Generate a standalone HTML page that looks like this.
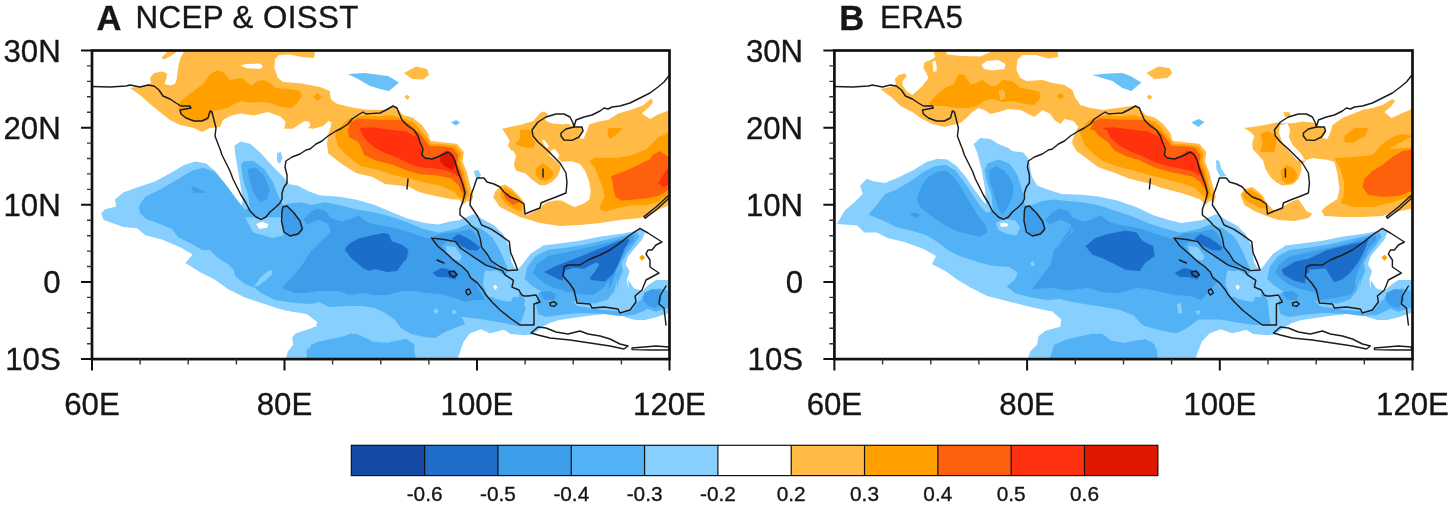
<!DOCTYPE html>
<html lang="en"><head><meta charset="utf-8"><title>Figure</title>
<style>
html,body{margin:0;padding:0;background:#fff;}
body{width:1450px;height:506px;overflow:hidden;}
svg{display:block;}
text{font-family:"Liberation Sans",sans-serif;fill:#161616;stroke:#161616;stroke-width:0.35px;}
</style></head><body>
<svg width="1450" height="506" viewBox="0 0 1450 506">
<defs><filter id="bl" x="-5%" y="-5%" width="110%" height="110%"><feGaussianBlur stdDeviation="0.7"/></filter></defs>
<rect x="0" y="0" width="1450" height="506" fill="#fff"/>
<clipPath id="clip0"><rect x="92.0" y="50.5" width="577.5" height="308.6"/></clipPath>
<g clip-path="url(#clip0)"><g filter="url(#bl)">
<polygon fill="#ffbb44" points="185.6,49.0 314.6,49.0 314.6,56.0 313.6,58.0 302.0,57.0 290.0,54.4 279.0,55.0 275.0,59.0 274.4,68.0 278.0,78.0 283.0,82.0 302.0,83.6 320.0,87.0 330.0,91.0 329.9,94.1 331.3,99.7 336.8,103.8 350.7,107.3 364.5,109.4 378.3,110.1 386.6,109.4 393.5,105.5 399.1,110.7 403.2,114.9 412.9,117.7 421.2,124.6 426.7,131.5 430.9,138.4 422.4,130.0 426.5,133.5 430.7,141.1 444.5,142.4 456.9,143.8 463.8,152.1 462.5,161.8 466.6,171.5 469.4,182.6 472.1,192.2 473.5,196.4 470.8,201.9 467.0,201.0 463.0,205.0 459.7,199.8 451.4,199.2 437.6,196.4 419.6,192.2 408.5,186.7 397.5,185.3 385.0,183.9 372.6,177.0 356.0,172.9 340.7,163.2 328.3,153.5 326.9,143.8 327.1,142.6 328.5,132.9 330.6,127.3 331.3,122.5 328.5,121.1 323.0,126.0 313.3,128.7 307.8,128.0 310.5,125.3 309.2,121.8 305.0,121.1 300.9,123.2 292.6,128.7 284.3,128.7 285.6,121.8 280.1,116.3 267.7,112.1 253.8,115.6 240.0,113.5 230.0,116.0 223.0,120.0 220.0,127.0 210.0,128.0 202.0,132.0 194.0,128.0 180.0,125.0 170.0,120.0 160.0,112.0 150.0,104.0 140.0,95.0 130.0,88.0 148.0,85.0 151.0,83.0 150.0,78.0 154.0,73.0 162.0,71.6 167.0,73.6 166.6,78.0 164.4,84.0 170.0,85.4 175.0,84.0 177.0,78.0 178.0,68.0 180.4,58.0"/>
<polygon fill="#ffbb44" points="173.0,49.0 167.0,52.0 161.6,57.6 163.6,59.4 170.0,56.4 176.0,52.4 176.8,49.0"/>
<polygon fill="#ffffff" points="240.4,65.6 246.0,64.0 260.0,63.6 263.0,66.4 260.0,69.0 246.0,68.0"/>
<polygon fill="#ffbb44" points="404.0,73.0 416.0,66.4 427.0,69.0 429.0,75.0 423.0,79.6 412.0,79.0"/>
<polygon fill="#ffbb44" points="404.4,97.0 407.0,94.4 410.0,97.0 407.4,100.0"/>
<polygon fill="#ffa000" points="218.0,70.0 224.0,73.0 230.0,80.0 236.0,79.0 242.0,78.0 248.0,83.0 252.0,86.0 257.0,81.0 264.0,80.0 270.0,83.0 276.0,88.0 290.0,89.0 300.0,91.0 302.0,96.0 298.0,102.0 292.0,108.0 282.0,107.0 270.0,103.0 260.0,102.0 250.0,103.0 242.0,101.0 234.0,104.0 228.0,108.0 218.0,110.0 213.0,111.0 210.0,117.0 207.0,121.0 196.0,122.0 186.0,118.0 180.0,112.0 178.0,105.0 184.0,98.0 194.0,91.0 204.0,83.0 210.0,74.0"/>
<polygon fill="#ffa000" points="313.0,97.0 317.6,93.0 322.0,97.0 317.6,101.0"/>
<polygon fill="#ffa000" points="345.1,121.8 350.7,117.7 364.5,115.6 378.3,116.3 392.1,114.9 400.4,117.7 412.9,121.8 419.8,128.7 425.3,138.4 419.6,130.0 426.5,136.9 430.7,143.8 444.5,144.5 455.5,145.9 461.1,153.5 459.7,161.8 463.8,171.5 466.6,185.3 469.4,195.0 465.2,199.8 459.7,197.8 452.8,190.9 438.9,185.3 423.7,182.6 409.9,178.4 394.7,175.6 378.1,170.1 360.1,166.0 347.7,156.3 338.0,146.6 335.2,135.5 336.8,131.5"/>
<polygon fill="#ff6010" points="350.7,121.8 357.6,118.4 378.3,119.7 399.1,119.7 410.1,124.6 418.4,132.9 416.8,130.0 423.7,138.3 429.3,145.9 444.5,146.6 452.8,148.0 458.3,154.9 456.9,163.2 461.1,171.5 463.8,182.6 466.6,192.2 464.5,199.2 462.5,193.6 458.3,185.3 451.4,178.4 437.6,175.6 419.6,174.3 405.8,170.1 391.9,164.6 375.3,160.4 364.3,154.9 358.7,142.4 349.0,136.9 347.7,130.0 347.9,130.1"/>
<polygon fill="#ff3010" points="360.3,128.0 371.4,127.3 392.1,130.1 406.0,131.5 415.7,137.0 414.1,130.0 415.4,134.1 419.6,141.1 422.4,150.7 422.4,157.0 429.3,159.7 437.6,156.3 444.5,150.7 451.4,152.1 454.9,157.7 456.2,164.6 459.7,171.5 458.3,177.0 452.8,172.9 444.5,170.1 430.7,168.0 419.6,167.3 408.5,163.2 397.5,157.7 386.4,153.5 375.3,148.0 367.0,141.1 362.9,135.5 360.1,130.0"/>
<polygon fill="#e01800" points="440.3,157.7 447.2,152.8 452.8,156.3 454.9,164.6 452.8,170.1 444.5,166.0 440.3,161.8"/>
<polygon fill="#ffbb44" points="502.1,128.7 521.5,124.6 533.3,121.1 539.5,113.5 543.6,111.4 548.0,113.8 545.0,119.7 549.2,122.5 557.5,123.9 568.5,123.9 572.0,126.0 576.8,126.7 583.0,127.3 582.4,131.5 579.6,137.0 583.7,138.4 586.5,131.5 589.3,124.6 597.6,121.8 608.6,119.7 618.3,113.5 632.1,109.4 643.2,105.2 651.5,98.3 652.9,102.4 648.0,108.0 641.8,113.5 650.1,119.0 658.4,114.2 668.1,110.7 676.4,110.7 674.0,205.0 670.0,205.0 660.0,209.0 648.0,216.0 640.0,218.0 620.0,220.0 600.0,223.0 580.0,225.0 560.0,226.0 540.0,223.0 520.0,217.0 500.0,207.0 493.0,197.0 493.1,198.4 495.2,191.5 500.7,186.0 504.9,184.6 511.8,188.7 520.1,197.0 524.3,202.6 524.3,214.3 527.0,215.0 535.3,210.9 540.9,208.1 542.2,205.3 547.8,201.9 554.7,200.5 561.6,200.5 568.5,204.2 574.1,207.0 582.4,204.2 589.3,199.8 590.7,191.5 589.3,181.8 585.1,170.7 579.6,163.8 571.3,161.3 561.6,161.8 555.4,156.2 549.2,152.1 547.8,152.8 550.5,156.2 556.1,161.1 560.9,164.5 560.2,169.4 557.7,176.3 551.9,182.1 545.0,185.3 539.5,184.9 531.2,179.0 525.6,173.5 516.2,170.7 513.9,165.2 516.0,155.5 512.5,150.0 511.8,150.9 507.7,145.3 509.7,141.2 507.7,137.0"/>
<polygon fill="#ffffff" points="541.5,140.5 544.3,139.8 549.2,146.7 546.4,148.1"/>
<polygon fill="#ffffff" points="550.5,150.9 554.7,148.8 559.5,155.0 557.5,159.2 553.3,156.4"/>
<polygon fill="#ffffff" points="547.8,119.7 560.2,115.6 568.5,117.7 569.9,122.5 563.0,124.6 551.9,123.2"/>
<polygon fill="#ffa000" points="520.1,130.1 527.0,129.4 531.9,131.5 531.2,137.0 535.3,142.6 533.3,148.1 521.5,146.7 515.3,143.9 520.1,138.4"/>
<polygon fill="#ffa000" points="607.9,128.0 622.5,128.0 618.3,132.9 610.0,139.1 607.9,135.6"/>
<polygon fill="#ffa000" points="589.3,161.1 594.8,168.0 598.9,177.7 603.1,188.7 604.5,197.0 600.3,205.3 599.6,209.5 604.5,211.5 618.3,208.1 632.1,205.3 646.0,205.3 657.0,202.6 665.3,197.0 676.4,194.3 676.4,132.9 668.1,132.9 658.4,137.0 646.0,149.5 632.1,155.0 618.3,157.8 594.8,157.8"/>
<polygon fill="#ff6010" points="610.7,176.3 618.3,173.5 632.1,168.0 646.0,161.1 649.4,159.8 652.9,155.0 659.8,150.9 668.1,156.4 676.4,156.4 676.4,190.1 668.1,190.1 659.8,195.6 646.0,198.4 632.1,199.8 621.1,200.5 615.5,197.0 613.5,188.7 612.8,181.8"/>
<polygon fill="#ff3010" points="676.4,166.6 668.1,168.0 664.0,173.5 658.4,183.2 664.0,187.3 668.1,184.6 676.4,184.6"/>
<polygon fill="#ffa000" points="535.3,169.4 542.2,163.1 547.8,166.6 553.3,172.1 551.9,177.7 545.0,181.1 539.5,179.7 536.0,174.9"/>
<polygon fill="#ffa000" points="500.7,191.5 504.9,187.3 511.8,191.5 518.7,197.7 522.9,202.6 521.5,210.9 514.6,209.5 506.3,203.9 500.7,197.0"/>
<polygon fill="#ff6010" points="503.5,194.3 507.7,192.9 514.6,198.4 520.1,201.9 513.2,205.3 506.3,199.8"/>
<polygon fill="#86cfff" points="277.0,153.0 281.0,152.0 282.4,158.0 280.0,164.0 277.0,161.0"/>
<polygon fill="#ffffff" points="577.0,123.0 589.0,123.6 586.0,132.0 583.0,139.0 579.0,138.0 582.4,132.0 583.0,127.4"/>
<polygon fill="#86cfff" points="473.6,171.0 478.0,170.0 481.0,175.0 479.0,179.0 475.6,177.0"/>
<polygon fill="#68c1f9" points="348.0,74.0 365.0,73.0 388.0,76.0 399.0,82.4 389.0,91.0 380.0,89.0 370.0,86.0 358.0,79.0"/>
<polygon fill="#68c1f9" points="451.0,122.4 456.0,120.0 460.0,122.4 456.0,125.6"/>
<polygon fill="#86cfff" points="101.1,213.3 105.2,209.2 116.3,206.4 114.9,199.5 123.2,192.6 138.4,187.0 155.0,181.5 170.2,173.2 184.1,164.9 195.1,161.6 206.2,163.5 215.9,171.8 225.5,184.3 233.8,195.3 241.6,205.8 242.7,199.5 240.8,187.0 238.0,170.4 235.2,153.8 234.4,145.5 240.8,141.4 250.4,144.1 261.5,153.8 272.6,166.3 283.6,177.3 289.2,184.3 297.5,185.6 308.5,191.2 319.6,195.3 339.0,196.7 355.6,199.5 374.9,205.0 394.3,213.3 408.1,218.8 424.7,223.0 438.5,224.4 449.6,221.6 458.7,220.2 467.0,216.9 474.0,214.1 483.6,219.7 494.7,225.8 503.0,234.1 508.5,245.1 509.9,246.3 511.3,261.5 514.6,267.6 517.7,269.4 521.2,266.0 525.3,260.4 530.9,253.5 541.9,246.6 542.6,245.6 559.2,243.5 579.9,240.7 600.7,236.6 621.4,233.8 635.2,231.1 640.8,228.3 644.9,232.4 642.1,239.4 635.2,247.7 628.3,256.0 625.5,264.3 629.7,271.2 626.9,279.5 628.3,289.8 628.3,280.0 633.8,288.3 642.1,291.1 647.7,285.5 656.0,280.0 674.0,280.0 674.0,313.2 668.4,313.2 664.3,314.6 656.0,317.3 644.9,320.1 635.2,320.1 625.5,317.3 620.0,314.6 611.7,312.5 600.7,314.6 586.8,316.0 573.0,318.0 559.2,320.1 549.5,322.9 542.6,327.0 537.0,331.2 531.5,334.6 524.6,335.3 510.7,333.9 503.8,329.8 498.3,331.2 490.0,333.3 480.9,329.3 469.8,333.4 463.7,341.7 458.2,356.9 456.0,363.8 285.0,363.8 287.8,351.4 293.3,344.5 291.9,336.2 300.2,329.3 316.8,326.5 315.4,321.0 308.5,315.4 294.7,312.7 278.1,308.5 261.5,303.0 244.9,297.5 228.3,289.2 214.5,279.5 200.7,272.6 185.4,262.9 192.4,254.6 181.3,247.7 161.9,239.4 145.3,235.2 137.0,228.3 123.2,226.9 103.8,220.0"/>
<polygon fill="#ffffff" points="288.6,311.3 306.6,314.1 317.7,322.4 312.1,327.9 295.5,333.4 288.6,341.7"/>
<polygon fill="#53b2f5" points="139.8,205.0 145.3,196.7 161.9,188.4 178.5,178.7 192.4,170.4 203.4,167.7 214.5,171.8 225.5,184.3 236.6,199.5 244.9,209.7 249.9,207.5 248.0,195.0 243.0,179.0 241.0,164.1 243.5,161.6 253.2,160.7 264.3,169.0 272.6,181.5 278.1,195.3 282.3,205.0 289.2,203.6 300.2,202.2 311.3,205.0 325.1,202.2 339.0,205.0 355.6,209.2 372.2,211.9 388.8,216.1 405.4,221.6 422.0,228.5 438.5,232.7 457.9,228.5 467.0,224.4 480.9,228.5 491.9,236.8 500.2,250.7 505.8,264.5 508.5,269.8 505.8,275.3 511.3,285.0 519.6,292.5 525.1,300.2 519.6,326.5 500.2,322.4 483.6,319.6 461.5,316.8 465.0,324.0 455.0,328.0 445.0,332.0 435.0,338.0 425.0,337.0 411.0,334.0 401.0,328.0 395.0,320.0 387.0,314.0 375.0,308.0 363.0,306.0 347.0,306.0 329.0,307.0 319.0,302.0 311.0,304.0 295.0,303.0 275.0,300.0 261.0,293.0 255.0,288.0 245.0,284.0 235.0,276.0 234.0,270.0 228.0,264.0 218.0,258.0 210.0,250.0 202.0,250.0 190.0,243.0 178.0,237.0 172.0,229.0 160.0,224.0 146.0,219.0 140.0,213.0 139.0,208.0"/>
<polygon fill="#86cfff" points="244.9,217.2 253.2,232.4 272.6,238.0 283.6,235.2 280.9,217.2"/>
<polygon fill="#ffffff" points="256.0,224.1 262.1,221.7 268.4,224.1 267.0,227.7 259.3,228.9"/>
<polygon fill="#53b2f5" points="307.2,363.8 311.3,344.5 325.1,340.3 344.5,336.2 355.6,333.4 366.6,338.9 377.7,345.9 391.5,341.7 405.4,338.9 413.7,344.5 416.4,363.8"/>
<polygon fill="#53b2f5" points="306.6,350.0 317.7,341.7 337.0,338.9 350.9,333.4 361.9,336.2 373.0,341.7 389.6,343.1 406.2,338.9 414.5,344.5 411.7,363.8 306.6,363.8"/>
<polygon fill="#53b2f5" points="524.6,279.5 527.3,267.0 535.6,256.0 548.1,249.7 566.1,247.7 586.8,244.2 607.6,239.4 625.5,235.2 636.6,232.4 639.4,236.6 633.8,244.9 626.9,253.2 621.4,262.9 622.8,271.2 618.6,280.9 617.2,289.8 617.2,280.0 614.5,291.1 607.6,299.4 595.1,303.5 578.5,302.1 564.7,299.4 550.9,298.0 542.6,292.4 531.5,285.5 526.0,280.0"/>
<polygon fill="#53b2f5" points="642.1,296.6 650.4,291.1 660.1,288.3 668.4,291.1 668.4,307.7 656.0,311.8 644.9,307.7"/>
<polygon fill="#3c9dea" points="303.2,219.7 310.1,212.1 317.0,208.7 325.3,210.7 330.9,217.7 341.9,221.8 350.2,219.0 358.5,215.6 366.8,221.8 375.1,224.6 388.9,226.7 402.8,230.1 415.2,234.3 427.7,238.4 431.8,237.2 441.5,233.3 458.1,231.9 469.2,229.1 474.7,233.3 478.8,240.2 480.9,247.8 486.4,254.7 490.6,261.2 496.8,265.1 495.4,267.9 485.8,265.1 477.5,259.6 469.2,254.3 460.9,248.8 455.3,242.3 447.0,241.6 441.5,245.7 447.7,254.0 455.3,261.2 462.2,266.2 467.8,271.7 470.5,277.3 474.7,281.7 485.0,300.0 475.0,300.0 465.0,302.0 455.0,298.0 441.0,294.0 427.0,293.0 415.0,291.0 403.0,291.0 387.0,295.0 375.0,295.0 363.0,293.0 349.0,295.0 339.0,291.0 319.0,291.0 305.0,293.0 295.0,293.0 282.0,288.0 293.0,276.0 303.0,264.0 309.0,254.0 312.0,250.0 314.3,248.1 322.6,239.8 330.9,231.5 328.1,223.9 318.4,219.7 307.3,224.6"/>
<polygon fill="#3c9dea" points="191.0,185.6 206.2,192.6 193.7,193.1"/>
<polygon fill="#3c9dea" points="247.7,169.0 256.0,167.7 264.3,176.0 269.8,189.8 267.0,199.5 260.1,202.2 253.2,192.6 249.1,178.7"/>
<polygon fill="#3c9dea" points="283.6,208.6 287.8,206.4 294.7,213.3 301.6,223.0 302.4,231.3 296.1,236.3 287.8,235.4 283.1,225.8 282.3,214.7"/>
<polygon fill="#3c9dea" points="532.9,272.6 537.0,264.3 548.1,256.0 561.9,253.2 586.8,247.7 607.6,242.8 625.5,237.3 633.8,235.2 633.8,240.7 626.9,247.7 622.8,256.0 617.2,267.0 614.5,275.3 611.7,283.6 608.9,289.8 608.9,280.0 603.4,288.3 592.4,295.2 578.5,293.8 567.5,291.1 555.0,288.3 545.3,284.1 537.0,277.2"/>
<polygon fill="#1f6cc9" points="344.7,249.5 348.8,243.9 358.5,238.4 371.0,235.6 383.4,232.9 388.9,234.3 391.7,241.2 401.4,244.6 408.3,249.5 408.3,255.0 408.0,250.0 407.0,258.0 402.0,264.0 397.0,271.0 387.0,272.0 375.0,269.0 369.0,271.0 363.0,268.0 351.0,258.0 345.0,250.0"/>
<polygon fill="#1f6cc9" points="543.9,271.9 555.0,266.3 567.5,261.5 579.9,256.7 593.7,251.1 607.6,245.6 620.0,240.7 628.3,238.7 629.7,240.7 624.9,247.7 621.4,256.0 617.9,265.6 613.1,273.9 604.8,281.5 592.4,280.2 578.5,280.9 567.5,282.2 559.2,279.5"/>
<polygon fill="#3c9dea" points="565.4,270.5 573.0,267.7 584.1,268.7 589.6,265.6 596.5,262.2 599.3,264.3 595.1,271.2 589.6,278.1 592.4,280.9 597.9,285.0 595.1,291.9 564.7,291.9 562.6,278.1"/>
<polygon fill="#1f6cc9" points="451.9,238.8 458.1,234.0 466.4,237.4 474.7,243.0 480.2,247.8 477.5,250.6 469.2,249.9 460.9,245.7 455.3,241.6"/>
<polygon fill="#1f6cc9" points="432.5,272.7 441.5,267.9 448.4,269.3 458.1,273.4 455.3,279.6 445.6,276.9 437.3,276.9"/>
<polygon fill="#86cfff" points="445.6,245.7 455.3,247.1 462.2,256.8 459.5,261.0 452.6,258.2 447.0,252.7"/>
<polygon fill="#86cfff" points="484.4,272.0 496.8,270.6 507.9,277.6 510.7,285.9 518.9,291.4 518.9,296.9 488.5,296.9 483.0,284.5"/>
<polygon fill="#86cfff" points="485.0,270.0 501.0,274.0 515.0,290.0 511.0,302.0 495.0,300.0 487.0,286.0"/>
<polygon fill="#86cfff" points="433.0,311.0 436.0,308.0 439.0,311.0 436.0,314.0"/>
<polygon fill="#86cfff" points="451.6,312.0 454.0,309.6 456.6,312.0 454.0,314.4"/>
<polygon fill="#86cfff" points="254.0,286.4 260.0,278.0 268.0,271.0 272.4,270.0 272.0,274.0 266.0,280.0 258.0,286.0"/>
<polygon fill="#53b2f5" points="538.0,293.0 550.0,290.0 560.0,295.0 572.0,300.0 577.0,306.0 590.0,308.0 604.0,310.0 618.0,311.0 623.0,314.0 632.0,310.0 638.0,302.0 644.0,297.0 650.0,304.0 646.0,310.0 634.0,315.0 620.0,316.0 600.0,313.6 580.0,313.0 560.0,315.0 546.0,317.0 538.0,314.0 536.0,305.0"/>
<polygon fill="#3c9dea" points="540.0,292.0 550.0,291.0 556.0,295.0 554.0,300.0 544.0,299.6"/>
<polygon fill="#3c9dea" points="644.0,293.0 652.0,289.0 660.0,290.0 662.0,300.0 656.0,308.0 648.0,306.0 643.0,300.0"/>
<polygon fill="#53b2f5" points="492.0,298.0 508.0,302.0 520.0,300.0 526.0,308.0 520.0,324.0 510.0,317.0 500.0,309.0"/>
<polygon fill="#ffffff" points="493.0,287.0 495.0,284.4 497.6,287.0 495.4,290.0"/>
<polygon fill="#ffa000" points="639.0,257.6 642.0,254.8 645.2,257.6 642.0,260.8"/>
</g>
<g fill="none" stroke="#1c1c1c" stroke-width="1.45" stroke-linejoin="round" stroke-linecap="round">
<polyline points="90.0,86.4 110.0,87.0 126.0,86.0 130.0,85.0 140.0,87.0 148.0,85.0 154.0,86.0 159.0,90.0 163.0,96.0 170.0,99.0 176.0,103.0 181.0,106.0 190.0,106.0 191.0,108.0 180.0,110.0 181.0,114.0 186.0,118.0 194.0,121.0 202.0,121.0 208.0,118.0 210.0,111.0 212.0,112.0 214.0,120.0 216.0,128.0 215.0,136.0 218.0,144.0 220.0,149.0 222.0,155.0 226.0,163.0 230.0,171.0 233.0,179.0 237.0,187.0 241.0,195.0 246.0,203.0 250.0,211.0 256.0,217.0 261.0,219.4 266.0,217.0 270.0,212.0 276.0,207.0 280.0,203.0 282.0,199.0 282.0,193.0 284.0,187.0 287.0,183.0 287.0,175.0 285.0,167.0 286.0,161.0 292.0,157.0 300.0,154.0 306.0,150.0 310.0,149.0 316.0,144.0 322.0,141.0 328.0,136.0 336.0,131.0 342.0,128.0 348.0,124.0 352.0,119.0 358.0,115.0 363.0,112.0 366.0,114.0 370.0,113.6 380.0,113.0 386.0,110.0 393.0,106.0 397.0,108.0 399.0,113.0 402.0,120.0 408.0,126.0 414.0,130.0 418.0,136.0 420.0,142.0 423.0,149.0 422.0,155.0 425.0,158.0 432.0,159.0 440.0,156.0 448.0,152.0 452.0,155.0 455.0,161.0 457.0,169.0 460.0,177.0 463.0,185.0 465.0,193.0 463.0,201.0 460.0,209.0 460.0,215.0 465.0,219.0 469.0,223.0 470.5,225.0 477.5,230.5 480.2,238.8 481.6,247.1 487.1,254.0 491.3,261.0 499.6,266.5 507.9,270.6 517.6,270.0 514.8,262.3 510.7,252.7 509.3,241.6 499.6,234.7 491.3,229.1 481.6,225.0 478.0,217.0 474.0,211.0 470.0,205.0 471.0,195.0 474.0,187.0 477.0,178.0 484.0,178.0 487.0,182.0 494.0,184.0 500.0,187.0 504.0,192.0 510.0,197.0 518.0,200.0 524.0,204.0 525.0,214.0 532.0,211.0 540.0,208.0 541.0,203.0 548.0,200.0 556.0,197.0 566.0,193.0 567.0,183.0 566.0,173.0 560.0,163.0 552.0,155.0 546.0,149.0 538.0,142.0 533.0,136.0 532.0,130.0 538.0,122.0 546.0,117.0 556.0,114.0 564.0,114.0 570.0,117.0 573.0,123.0 574.0,127.0 576.0,120.0 584.0,117.0 592.0,115.0 600.0,111.0 604.0,108.0 608.0,109.0 612.0,107.0 620.0,106.0 630.0,103.0 640.0,98.0 650.0,93.0 658.0,87.0 664.0,82.0 668.0,77.0 672.0,72.0"/>
<polyline points="561.0,133.0 566.0,129.0 574.0,127.0 582.0,127.0 583.0,131.0 579.0,137.0 572.0,140.4 564.0,140.0 561.0,136.0 561.0,133.0"/>
<polyline points="283.0,207.0 287.0,206.0 294.0,213.0 300.0,221.0 302.4,229.0 298.0,234.0 290.0,236.0 284.0,232.0 281.6,221.0 282.0,211.0 283.0,207.0"/>
<polyline points="431.8,238.1 437.3,245.7 447.0,254.0 455.3,261.7 462.2,266.5 467.8,272.0 470.5,277.6 477.5,283.1 483.0,290.0 485.8,294.8 492.0,302.0 500.0,310.0 510.0,318.0 520.0,325.0 528.0,325.0 534.0,325.0 534.0,304.0 540.0,302.0 536.0,295.0 528.0,296.0 524.0,296.0 521.7,294.8 518.9,290.0 512.0,287.2 513.4,280.3 509.3,277.6 505.1,274.8 502.4,270.6 494.1,267.9 485.8,265.1 477.5,259.6 469.2,254.0 460.9,248.5 455.3,241.6 444.3,239.5 431.8,238.1"/>
<polyline points="531.0,333.0 538.0,327.0 546.0,328.0 556.0,332.0 568.0,334.0 580.0,331.0 588.0,334.0 600.0,336.0 610.0,339.0 620.0,344.0 628.0,346.0 624.0,349.0 610.0,346.0 590.0,343.0 570.0,340.0 550.0,338.0 538.0,335.0 531.0,333.0"/>
<polyline points="632.0,348.0 644.0,347.0 656.0,346.0 669.0,347.0 669.0,350.0 650.0,350.0 632.0,349.6 632.0,348.0"/>
<polyline points="610.0,250.0 600.0,255.0 588.0,260.0 580.0,265.0 568.0,265.0 564.0,267.0 563.0,276.0 570.0,284.0 574.0,290.0 577.0,303.0 590.0,304.0 592.0,308.0 604.0,307.0 618.0,309.0 620.0,313.0 630.0,310.0 636.0,302.0 635.0,296.0 642.0,290.0 646.0,280.0 659.0,273.0 650.0,267.0 650.0,260.0 646.0,254.0 648.0,250.0 652.0,250.0 656.0,245.0 662.0,242.0 648.0,233.0 640.0,228.4 630.0,235.0 620.0,243.0 610.0,250.0"/>
<polyline points="666.0,286.0 660.0,296.0 659.0,304.0 664.0,308.0 666.0,325.0"/>
<polyline points="550.0,303.0 554.0,301.6 557.0,304.0 554.0,306.4 550.4,305.6 550.0,303.0"/>
<polyline points="466.4,290.0 469.0,289.0 471.0,293.0 468.0,295.0 466.0,292.4 466.4,290.0"/>
<polyline points="449.0,272.0 454.0,271.0 457.0,275.0 454.0,277.0 450.0,275.0 449.0,272.0"/>
<polyline points="437.0,260.0 444.0,263.0"/>
<polyline points="408.0,179.0 407.0,189.0"/>
<polyline points="644.0,216.6 656.0,207.0 668.0,196.0 669.2,198.0 657.2,209.0 645.2,218.2 644.0,216.6"/>
<polyline points="543.0,169.0 543.0,177.0"/>
</g></g>
<g stroke="#111" fill="none">
<rect x="92.0" y="50.5" width="577.5" height="308.6" stroke-width="2.7"/>
<path d="M92.0 50.5H81.0M92.0 127.7H81.0M92.0 204.8H81.0M92.0 282.0H81.0M92.0 359.1H81.0" stroke-width="2"/>
<path d="M92.0 65.9H87.0M92.0 81.4H87.0M92.0 96.8H87.0M92.0 112.2H87.0M92.0 143.1H87.0M92.0 158.5H87.0M92.0 173.9H87.0M92.0 189.4H87.0M92.0 220.2H87.0M92.0 235.7H87.0M92.0 251.1H87.0M92.0 266.5H87.0M92.0 297.4H87.0M92.0 312.8H87.0M92.0 328.2H87.0M92.0 343.7H87.0" stroke-width="1.4" stroke="#333"/>
<path d="M92.0 359.1V370.6M284.5 359.1V370.6M477.0 359.1V370.6M669.5 359.1V370.6" stroke-width="2"/>
<path d="M140.1 359.1V364.6M188.2 359.1V364.6M236.4 359.1V364.6M332.6 359.1V364.6M380.8 359.1V364.6M428.9 359.1V364.6M525.1 359.1V364.6M573.2 359.1V364.6M621.4 359.1V364.6" stroke-width="1.4" stroke="#333"/>
</g>
<text x="60.7" y="61.7" font-size="31.2" text-anchor="end">30N</text>
<text x="60.7" y="138.8" font-size="31.2" text-anchor="end">20N</text>
<text x="60.7" y="216.0" font-size="31.2" text-anchor="end">10N</text>
<text x="60.7" y="293.2" font-size="31.2" text-anchor="end">0</text>
<text x="60.7" y="370.3" font-size="31.2" text-anchor="end">10S</text>
<text x="92.0" y="415.3" font-size="31.2" text-anchor="middle">60E</text>
<text x="284.5" y="415.3" font-size="31.2" text-anchor="middle">80E</text>
<text x="477.0" y="415.3" font-size="31.2" text-anchor="middle">100E</text>
<text x="669.5" y="415.3" font-size="31.2" text-anchor="middle">120E</text>
<clipPath id="clip1"><rect x="834.4" y="50.5" width="578.1" height="308.6"/></clipPath>
<g clip-path="url(#clip1)"><g filter="url(#bl)">
<polygon fill="#ffbb44" points="932.4,49.0 944.4,49.0 947.4,54.4 962.4,56.0 980.4,56.4 989.4,52.4 992.4,49.0 1057.4,49.0 1058.4,57.0 1048.4,58.4 1036.4,55.0 1022.4,55.0 1017.4,60.0 1016.4,70.0 1020.4,78.0 1026.4,81.0 1042.4,80.0 1052.4,83.0 1064.4,85.0 1072.4,90.0 1075.4,98.0 1080.4,105.0 1090.4,108.0 1102.4,110.0 1135.9,105.5 1141.5,110.7 1145.6,114.9 1155.3,117.7 1163.6,124.6 1169.1,131.5 1173.3,138.4 1164.8,130.0 1168.9,133.5 1173.1,141.1 1186.9,142.4 1199.3,143.8 1206.2,152.1 1204.9,161.8 1209.0,171.5 1211.8,182.6 1214.5,192.2 1215.9,196.4 1213.2,201.9 1209.4,201.0 1205.4,205.0 1200.7,199.8 1192.4,196.4 1178.6,192.2 1162.0,188.1 1150.9,183.9 1139.9,181.2 1128.8,178.4 1115.0,172.9 1098.4,167.3 1087.3,159.0 1076.2,150.7 1072.1,142.4 1072.4,149.0 1072.4,140.0 1075.4,132.0 1078.4,127.0 1073.4,121.0 1064.4,119.0 1060.4,124.0 1054.4,120.0 1050.4,114.0 1042.4,110.0 1034.4,117.0 1028.4,114.0 1020.4,110.0 1008.4,109.0 998.4,112.0 990.4,114.0 984.4,110.0 978.4,108.0 972.4,112.0 966.4,118.0 960.4,123.0 952.4,125.0 944.4,127.0 932.4,124.0 920.4,118.0 912.4,112.0 900.4,106.0 892.4,98.0 880.4,89.0 890.4,87.0 896.0,84.4 894.8,79.0 898.8,75.0 904.8,73.6 906.8,76.0 902.8,81.0 902.4,85.0 906.4,91.0 912.4,95.0 922.4,86.0 928.4,78.0 926.4,73.0 923.4,68.0 924.4,62.4 931.4,59.6 935.4,57.0"/>
<polygon fill="#ffffff" points="981.4,65.0 986.4,61.0 998.4,60.0 1005.4,64.0 1004.4,69.0 992.4,70.4 984.4,69.0"/>
<polygon fill="#ffffff" points="932.4,61.6 936.0,61.0 936.8,71.0 933.4,72.0"/>
<polygon fill="#ffbb44" points="1146.4,73.0 1158.4,66.4 1169.4,68.0 1172.4,73.0 1167.4,78.0 1154.4,79.0"/>
<polygon fill="#ffbb44" points="1146.8,97.0 1149.4,94.4 1152.4,97.0 1149.8,100.0"/>
<polygon fill="#ffa000" points="958.4,74.0 964.4,75.0 970.4,84.0 976.4,83.0 982.4,80.0 990.4,86.0 996.4,86.0 1002.4,80.0 1012.4,81.0 1020.4,88.0 1032.4,90.0 1039.4,92.0 1040.4,98.0 1034.4,105.0 1024.4,104.0 1012.4,101.0 1002.4,102.0 992.4,99.0 984.4,101.0 976.4,106.0 968.4,108.0 956.4,108.0 944.4,106.0 932.4,106.0 928.4,104.0 936.4,95.0 946.4,87.0 954.4,84.0 956.4,78.0"/>
<polygon fill="#ffbb44" points="998.8,91.0 1002.4,89.0 1005.4,93.0 1004.4,99.0 1000.4,100.0"/>
<polygon fill="#ffa000" points="1056.4,96.0 1060.4,93.0 1064.4,96.0 1060.4,99.6"/>
<polygon fill="#ffa000" points="1087.5,121.8 1093.1,117.7 1106.9,115.6 1120.7,116.3 1134.5,114.9 1142.8,117.7 1155.3,121.8 1162.2,128.7 1167.7,138.4 1162.0,130.0 1168.9,136.9 1173.1,143.8 1186.9,144.5 1197.9,145.9 1203.5,153.5 1202.1,161.8 1206.2,171.5 1209.0,185.3 1211.8,195.0 1207.6,199.8 1202.1,195.0 1195.2,188.1 1184.1,183.9 1167.5,179.8 1150.9,175.6 1137.1,171.5 1120.5,167.3 1103.9,161.8 1092.8,153.5 1084.5,145.2 1080.4,134.1 1079.2,131.5"/>
<polygon fill="#ff6010" points="1093.1,121.8 1100.0,118.4 1120.7,119.7 1141.5,119.7 1152.5,124.6 1160.8,132.9 1159.2,130.0 1166.1,138.3 1171.7,145.9 1186.9,146.6 1195.2,148.0 1200.7,154.9 1199.3,163.2 1203.5,171.5 1206.2,182.6 1209.0,192.2 1206.9,199.2 1206.2,190.9 1200.7,182.6 1193.8,177.0 1181.3,174.3 1167.5,171.5 1153.7,167.3 1139.9,160.4 1126.0,156.3 1115.0,150.7 1108.0,142.4 1098.4,135.5 1094.2,130.0 1090.3,130.1"/>
<polygon fill="#ff3010" points="1102.7,128.0 1113.8,127.3 1134.5,130.1 1148.4,131.5 1158.1,137.0 1156.5,130.0 1157.8,134.1 1162.0,141.1 1164.8,150.7 1164.8,157.0 1171.7,159.7 1180.0,156.3 1186.9,150.7 1193.8,152.1 1197.3,157.7 1198.6,164.6 1202.1,171.5 1200.7,175.6 1192.4,171.5 1181.3,168.7 1167.5,166.0 1153.7,161.8 1142.6,156.3 1131.6,152.1 1120.5,146.6 1110.8,138.3 1106.7,130.0"/>
<polygon fill="#ffbb44" points="1244.4,128.0 1262.4,125.6 1276.4,122.4 1282.4,123.2 1292.4,123.2 1302.4,121.6 1313.4,122.8 1317.4,126.0 1324.4,127.0 1326.4,132.0 1322.4,138.0 1327.4,139.0 1330.4,132.0 1332.4,125.0 1342.4,118.0 1352.4,114.0 1362.4,110.0 1372.4,108.0 1382.4,105.0 1392.4,99.0 1395.4,101.0 1390.4,107.0 1384.4,112.0 1391.4,118.0 1402.4,113.0 1412.4,109.0 1418.4,108.0 1418.4,205.0 1410.4,209.0 1390.4,213.0 1382.4,216.0 1362.4,217.0 1342.4,217.0 1324.4,216.0 1321.4,211.0 1326.4,206.0 1337.4,199.0 1339.4,189.0 1337.4,173.0 1334.4,162.0 1326.4,159.4 1319.4,159.0 1312.4,158.0 1306.4,160.0 1301.4,165.0 1301.4,171.0 1298.4,179.0 1292.4,184.6 1282.4,185.4 1276.4,182.6 1270.4,177.0 1265.4,169.0 1263.4,161.0 1258.4,155.0 1253.4,150.0 1252.4,147.0 1252.4,142.0 1254.4,136.0 1250.4,132.0"/>
<polygon fill="#ffbb44" points="1283.4,112.0 1290.4,112.4 1290.0,117.0 1284.8,117.0"/>
<polygon fill="#ffffff" points="1279.8,125.3 1287.4,123.2 1290.2,130.1 1288.8,137.0 1292.9,145.3 1299.9,152.2 1305.4,160.5 1297.1,160.5 1287.4,149.5 1281.9,141.2 1279.1,132.9"/>
<polygon fill="#ffa000" points="1260.4,134.0 1266.4,131.0 1274.4,134.0 1276.4,142.0 1274.4,152.0 1260.4,152.0 1262.4,142.0"/>
<polygon fill="#ffa000" points="1344.4,136.0 1354.4,128.0 1368.4,128.0 1365.4,136.0 1352.4,143.0 1344.4,142.0"/>
<polygon fill="#ffbb44" points="1240.4,195.0 1244.4,189.0 1252.4,187.0 1262.4,195.0 1266.4,203.0 1274.4,211.0 1282.4,207.0 1290.4,202.0 1298.4,199.0 1302.4,205.0 1306.4,211.0 1312.4,214.0 1308.4,218.0 1294.4,221.0 1278.4,220.0 1266.4,216.0 1254.4,211.0 1244.4,205.0"/>
<polygon fill="#ffa000" points="1242.4,194.0 1250.4,189.0 1260.4,196.0 1266.4,204.0 1268.4,209.0 1260.4,208.0 1250.4,203.0 1244.4,199.0"/>
<polygon fill="#ffa000" points="1280.4,171.0 1286.4,165.0 1293.4,168.0 1297.4,175.0 1294.4,182.0 1286.4,184.0 1281.4,179.0"/>
<polygon fill="#ffa000" points="1334.4,158.0 1340.4,169.0 1344.4,183.0 1343.4,197.0 1340.4,203.0 1352.4,207.0 1372.4,207.0 1390.4,203.0 1402.4,199.0 1418.4,194.0 1418.4,147.0 1388.4,149.0 1412.4,136.0 1402.4,134.0 1392.4,137.0 1382.4,144.0 1372.4,155.0 1352.4,157.0"/>
<polygon fill="#ff6010" points="1362.4,187.0 1364.4,179.0 1372.4,171.0 1382.4,165.0 1392.4,157.0 1402.4,151.0 1418.4,148.0 1418.4,188.0 1406.4,193.0 1398.4,196.0 1382.4,197.0 1368.4,195.0"/>
<polygon fill="#86cfff" points="1216.0,160.0 1219.4,161.0 1221.4,169.0 1226.4,176.0 1220.4,177.0 1216.4,169.0"/>
<polygon fill="#68c1f9" points="1092.4,75.0 1108.4,73.6 1122.4,73.0 1130.4,76.0 1141.4,82.4 1131.4,91.0 1122.4,88.0 1112.4,81.0 1102.4,78.0"/>
<polygon fill="#68c1f9" points="1191.4,122.4 1198.4,119.0 1204.4,122.0 1198.4,127.0"/>
<polygon fill="#86cfff" points="836.5,224.4 844.8,210.5 854.5,202.2 862.8,193.9 860.1,185.6 867.0,178.7 873.9,181.5 885.0,182.9 898.8,177.3 912.6,170.4 926.5,162.1 937.5,158.8 947.2,159.4 956.9,166.3 965.2,176.0 973.5,188.4 981.8,199.5 985.9,204.2 985.1,189.8 981.8,170.4 977.6,153.8 973.5,144.1 979.0,140.0 975.4,142.0 980.4,138.0 990.4,139.0 998.4,144.0 1008.4,148.0 1012.2,151.1 1023.3,152.4 1028.8,159.4 1030.2,167.7 1031.6,176.0 1037.1,185.6 1048.2,189.8 1062.0,193.9 1081.4,194.8 1098.0,196.4 1117.3,200.6 1136.7,207.2 1153.3,215.2 1169.9,220.2 1180.9,223.0 1192.0,221.6 1201.1,220.2 1209.4,216.9 1216.4,214.1 1226.0,219.7 1237.1,225.8 1245.4,234.1 1250.9,245.1 1252.3,246.3 1253.7,261.5 1257.0,267.6 1260.1,269.4 1263.6,266.0 1267.7,260.4 1273.3,253.5 1284.3,246.6 1285.0,245.6 1301.6,243.5 1322.3,240.7 1343.1,236.6 1363.8,233.8 1377.6,231.1 1383.2,228.3 1387.3,232.4 1384.5,239.4 1377.6,247.7 1370.7,256.0 1367.9,264.3 1372.1,271.2 1369.3,279.5 1370.7,289.8 1370.7,280.0 1376.2,288.3 1384.5,291.1 1390.1,285.5 1398.4,280.0 1416.4,280.0 1416.4,313.2 1410.8,313.2 1406.7,314.6 1398.4,317.3 1387.3,320.1 1377.6,320.1 1367.9,317.3 1362.4,314.6 1354.1,312.5 1343.1,314.6 1329.2,316.0 1315.4,318.0 1301.6,320.1 1291.9,322.9 1285.0,327.0 1279.4,331.2 1273.9,334.6 1267.0,335.3 1253.1,333.9 1246.2,329.8 1240.7,331.2 1232.4,333.3 1220.5,329.3 1209.4,333.4 1201.7,341.7 1195.6,358.3 1194.2,363.8 1026.0,363.8 1030.2,351.4 1037.1,344.5 1038.5,336.2 1045.4,330.7 1060.6,326.5 1057.8,318.2 1050.9,311.3 1037.1,308.5 1020.5,304.4 1003.9,300.2 987.3,296.1 970.7,287.8 956.9,279.5 945.8,271.2 932.0,264.3 936.1,256.0 923.7,249.0 904.3,242.1 887.7,238.0 876.7,232.4 864.2,232.4 857.3,225.5 837.9,224.1"/>
<polygon fill="#ffffff" points="1031.0,309.9 1051.8,311.3 1061.4,319.6 1060.1,326.5 1043.5,330.7 1035.2,336.2 1031.0,344.5"/>
<polygon fill="#53b2f5" points="868.4,214.7 876.7,205.0 885.0,193.9 896.0,189.8 909.9,181.5 923.7,171.8 934.8,166.3 945.8,164.9 955.5,170.4 963.8,181.5 972.1,193.9 980.4,206.4 986.8,213.0 992.8,210.3 991.5,195.3 986.8,181.5 984.5,170.4 987.3,163.5 998.4,159.4 1009.4,163.5 1016.4,173.2 1020.5,184.3 1023.3,195.3 1024.7,205.0 1031.6,205.0 1042.6,200.9 1053.7,199.5 1067.5,200.9 1081.4,202.2 1098.0,205.0 1114.6,210.5 1131.2,216.1 1147.8,223.0 1164.4,228.5 1180.9,232.7 1200.3,228.5 1209.4,224.4 1223.3,228.5 1234.3,236.8 1242.6,250.7 1248.2,264.5 1250.9,269.8 1248.2,275.3 1253.7,285.0 1262.0,292.5 1267.5,300.2 1270.3,325.1 1253.7,325.1 1237.1,322.4 1220.5,319.6 1198.4,319.6 1187.3,327.9 1176.2,333.4 1162.4,330.7 1145.8,326.5 1140.8,323.7 1133.9,315.4 1120.1,309.9 1103.5,307.1 1086.9,304.4 1070.3,301.6 1059.2,298.8 1048.2,300.2 1031.6,297.5 1015.0,293.3 1006.7,286.4 1015.0,279.5 1017.7,272.6 1009.4,267.0 990.1,265.6 976.2,261.5 959.6,256.0 948.6,250.4 937.5,242.1 926.5,235.2 912.6,231.1 896.0,226.9 882.2,220.0"/>
<polygon fill="#86cfff" points="995.6,223.0 1003.9,218.8 1015.0,220.2 1020.5,227.1 1016.4,235.4 1006.7,234.1 998.4,229.9"/>
<polygon fill="#ffffff" points="999.8,223.5 1003.9,222.4 1008.3,224.1 1007.2,226.6 1001.1,226.9"/>
<polygon fill="#53b2f5" points="1048.2,363.8 1053.7,345.9 1067.5,341.7 1081.4,337.6 1092.4,333.4 1103.5,334.8 1111.8,341.7 1120.1,347.2 1131.2,341.7 1145.0,338.9 1154.7,344.5 1158.8,363.8"/>
<polygon fill="#53b2f5" points="1049.0,363.8 1054.5,344.5 1068.4,338.9 1087.7,334.8 1101.6,333.4 1109.9,340.3 1123.7,343.1 1137.5,340.3 1151.3,341.7 1156.9,350.0 1158.3,363.8"/>
<polygon fill="#53b2f5" points="1267.0,279.5 1269.7,267.0 1278.0,256.0 1290.5,249.7 1308.5,247.7 1329.2,244.2 1350.0,239.4 1367.9,235.2 1379.0,232.4 1381.8,236.6 1376.2,244.9 1369.3,253.2 1363.8,262.9 1365.2,271.2 1361.0,280.9 1359.6,289.8 1359.6,280.0 1356.9,291.1 1350.0,299.4 1337.5,303.5 1320.9,302.1 1307.1,299.4 1293.3,298.0 1285.0,292.4 1273.9,285.5 1268.4,280.0"/>
<polygon fill="#53b2f5" points="1384.5,296.6 1392.8,291.1 1402.5,288.3 1410.8,291.1 1410.8,307.7 1398.4,311.8 1387.3,307.7"/>
<polygon fill="#3c9dea" points="916.8,199.5 920.9,187.0 927.8,177.3 937.5,171.8 945.8,170.4 954.1,177.3 962.4,189.8 970.7,203.6 979.0,217.5 985.9,225.8 987.3,232.7 979.0,236.8 967.9,234.1 956.9,231.3 945.8,225.8 934.8,218.8 926.5,211.9 919.5,206.4"/>
<polygon fill="#3c9dea" points="988.7,170.4 995.6,166.3 1003.9,170.4 1010.8,178.7 1013.6,188.4 1012.2,198.1 1008.1,206.4 1002.5,214.7 998.4,209.2 994.2,195.3 990.1,181.5"/>
<polygon fill="#3c9dea" points="909.9,214.1 915.4,212.5 920.9,215.2 915.4,218.0"/>
<polygon fill="#3c9dea" points="1026.0,208.6 1030.2,206.4 1037.1,213.3 1044.0,223.0 1044.8,231.3 1038.5,236.3 1030.2,235.4 1025.5,225.8 1024.7,214.7"/>
<polygon fill="#3c9dea" points="1045.6,219.7 1052.5,212.1 1059.4,208.7 1067.7,210.7 1073.3,217.7 1084.3,221.8 1092.6,219.0 1100.9,215.6 1109.2,221.8 1117.5,224.6 1131.3,226.7 1145.2,230.1 1157.6,234.3 1170.1,238.4 1174.2,237.2 1183.9,233.3 1200.5,231.9 1211.6,229.1 1217.1,233.3 1221.2,240.2 1223.3,247.8 1228.8,254.7 1233.0,261.2 1239.2,265.1 1237.8,267.9 1228.2,265.1 1219.9,259.6 1211.6,254.3 1203.3,248.8 1197.7,242.3 1189.4,241.6 1183.9,245.7 1190.1,254.0 1197.7,261.2 1204.6,266.2 1210.2,271.7 1212.9,277.3 1217.1,281.7 1201.1,300.2 1190.1,296.1 1173.5,294.7 1154.1,290.5 1137.5,287.8 1118.2,293.3 1101.6,291.9 1087.7,287.8 1068.4,290.5 1051.8,287.8 1032.4,289.2 1033.0,287.8 1042.6,275.3 1050.9,264.3 1053.7,250.4 1062.0,242.1 1070.3,233.8 1071.7,225.5 1056.7,248.1 1065.0,239.8 1073.3,231.5 1070.5,223.9 1060.8,219.7 1049.7,224.6"/>
<polygon fill="#3c9dea" points="1275.3,272.6 1279.4,264.3 1290.5,256.0 1304.3,253.2 1329.2,247.7 1350.0,242.8 1367.9,237.3 1376.2,235.2 1376.2,240.7 1369.3,247.7 1365.2,256.0 1359.6,267.0 1356.9,275.3 1354.1,283.6 1351.3,289.8 1351.3,280.0 1345.8,288.3 1334.8,295.2 1320.9,293.8 1309.9,291.1 1297.4,288.3 1287.7,284.1 1279.4,277.2"/>
<polygon fill="#1f6cc9" points="1085.5,246.3 1095.2,238.0 1109.0,233.8 1125.6,230.5 1136.7,232.4 1142.2,240.7 1153.3,246.3 1154.7,256.0 1145.0,262.9 1139.5,271.2 1125.6,269.8 1117.3,265.6 1103.5,258.7 1092.4,254.6"/>
<polygon fill="#1f6cc9" points="1281.4,269.8 1295.2,261.5 1309.0,258.7 1325.6,250.4 1342.2,246.3 1361.6,242.1 1368.5,239.4 1364.4,250.4 1358.8,261.5 1350.5,272.6 1342.2,279.5 1333.9,282.2 1325.6,272.6 1314.6,269.8 1306.3,273.9 1304.9,283.6 1295.2,280.9 1284.1,275.3"/>
<polygon fill="#3c9dea" points="1309.0,269.8 1325.6,268.4 1329.8,275.3 1333.9,282.2 1342.2,280.9 1350.5,275.3 1356.1,286.4 1350.5,294.7 1336.7,297.5 1320.1,300.2 1314.6,289.2"/>
<polygon fill="#1f6cc9" points="1194.3,238.8 1200.5,234.0 1208.8,237.4 1217.1,243.0 1222.6,247.8 1219.9,250.6 1211.6,249.9 1203.3,245.7 1197.7,241.6"/>
<polygon fill="#1f6cc9" points="1174.9,272.7 1183.9,267.9 1190.8,269.3 1200.5,273.4 1197.7,279.6 1188.0,276.9 1179.7,276.9"/>
<polygon fill="#86cfff" points="1188.0,245.7 1197.7,247.1 1204.6,256.8 1201.9,261.0 1195.0,258.2 1189.4,252.7"/>
<polygon fill="#86cfff" points="1226.8,272.0 1239.2,270.6 1250.3,277.6 1253.1,285.9 1261.3,291.4 1261.3,296.9 1230.9,296.9 1225.4,284.5"/>
<polygon fill="#86cfff" points="1227.4,270.0 1243.4,274.0 1257.4,290.0 1253.4,302.0 1237.4,300.0 1229.4,286.0"/>
<polygon fill="#86cfff" points="1176.8,304.4 1180.9,303.0 1182.3,312.7 1178.2,314.1"/>
<polygon fill="#86cfff" points="1194.8,311.3 1200.3,309.9 1198.9,315.4"/>
<polygon fill="#86cfff" points="1030.2,263.1 1033.0,261.2 1034.9,264.5 1032.1,266.7"/>
<polygon fill="#53b2f5" points="1280.4,293.0 1292.4,290.0 1302.4,295.0 1314.4,300.0 1319.4,306.0 1332.4,308.0 1346.4,310.0 1360.4,311.0 1365.4,314.0 1374.4,310.0 1380.4,302.0 1386.4,297.0 1392.4,304.0 1388.4,310.0 1376.4,315.0 1362.4,316.0 1342.4,313.6 1322.4,313.0 1302.4,315.0 1288.4,317.0 1280.4,314.0 1278.4,305.0"/>
<polygon fill="#3c9dea" points="1282.4,292.0 1292.4,291.0 1298.4,295.0 1296.4,300.0 1286.4,299.6"/>
<polygon fill="#3c9dea" points="1386.4,293.0 1394.4,289.0 1402.4,290.0 1404.4,300.0 1398.4,308.0 1390.4,306.0 1385.4,300.0"/>
<polygon fill="#53b2f5" points="1234.4,298.0 1250.4,302.0 1262.4,300.0 1268.4,308.0 1262.4,324.0 1252.4,317.0 1242.4,309.0"/>
<polygon fill="#ffffff" points="1235.4,287.0 1237.4,284.4 1240.0,287.0 1237.8,290.0"/>
<polygon fill="#ffa000" points="1381.4,257.6 1384.4,254.8 1387.6,257.6 1384.4,260.8"/>
</g>
<g fill="none" stroke="#1c1c1c" stroke-width="1.45" stroke-linejoin="round" stroke-linecap="round">
<polyline points="832.4,86.4 852.4,87.0 868.4,86.0 872.4,85.0 882.4,87.0 890.4,85.0 896.4,86.0 901.4,90.0 905.4,96.0 912.4,99.0 918.4,103.0 923.4,106.0 932.4,106.0 933.4,108.0 922.4,110.0 923.4,114.0 928.4,118.0 936.4,121.0 944.4,121.0 950.4,118.0 952.4,111.0 954.4,112.0 956.4,120.0 958.4,128.0 957.4,136.0 960.4,144.0 962.4,149.0 964.4,155.0 968.4,163.0 972.4,171.0 975.4,179.0 979.4,187.0 983.4,195.0 988.4,203.0 992.4,211.0 998.4,217.0 1003.4,219.4 1008.4,217.0 1012.4,212.0 1018.4,207.0 1022.4,203.0 1024.4,199.0 1024.4,193.0 1026.4,187.0 1029.4,183.0 1029.4,175.0 1027.4,167.0 1028.4,161.0 1034.4,157.0 1042.4,154.0 1048.4,150.0 1052.4,149.0 1058.4,144.0 1064.4,141.0 1070.4,136.0 1078.4,131.0 1084.4,128.0 1090.4,124.0 1094.4,119.0 1100.4,115.0 1105.4,112.0 1108.4,114.0 1112.4,113.6 1122.4,113.0 1128.4,110.0 1135.4,106.0 1139.4,108.0 1141.4,113.0 1144.4,120.0 1150.4,126.0 1156.4,130.0 1160.4,136.0 1162.4,142.0 1165.4,149.0 1164.4,155.0 1167.4,158.0 1174.4,159.0 1182.4,156.0 1190.4,152.0 1194.4,155.0 1197.4,161.0 1199.4,169.0 1202.4,177.0 1205.4,185.0 1207.4,193.0 1205.4,201.0 1202.4,209.0 1202.4,215.0 1207.4,219.0 1211.4,223.0 1212.9,225.0 1219.9,230.5 1222.6,238.8 1224.0,247.1 1229.5,254.0 1233.7,261.0 1242.0,266.5 1250.3,270.6 1260.0,270.0 1257.2,262.3 1253.1,252.7 1251.7,241.6 1242.0,234.7 1233.7,229.1 1224.0,225.0 1220.4,217.0 1216.4,211.0 1212.4,205.0 1213.4,195.0 1216.4,187.0 1219.4,178.0 1226.4,178.0 1229.4,182.0 1236.4,184.0 1242.4,187.0 1246.4,192.0 1252.4,197.0 1260.4,200.0 1266.4,204.0 1267.4,214.0 1274.4,211.0 1282.4,208.0 1283.4,203.0 1290.4,200.0 1298.4,197.0 1308.4,193.0 1309.4,183.0 1308.4,173.0 1302.4,163.0 1294.4,155.0 1288.4,149.0 1280.4,142.0 1275.4,136.0 1274.4,130.0 1280.4,122.0 1288.4,117.0 1298.4,114.0 1306.4,114.0 1312.4,117.0 1315.4,123.0 1316.4,127.0 1318.4,120.0 1326.4,117.0 1334.4,115.0 1342.4,111.0 1346.4,108.0 1350.4,109.0 1354.4,107.0 1362.4,106.0 1372.4,103.0 1382.4,98.0 1392.4,93.0 1400.4,87.0 1406.4,82.0 1410.4,77.0 1414.4,72.0"/>
<polyline points="1303.4,133.0 1308.4,129.0 1316.4,127.0 1324.4,127.0 1325.4,131.0 1321.4,137.0 1314.4,140.4 1306.4,140.0 1303.4,136.0 1303.4,133.0"/>
<polyline points="1025.4,207.0 1029.4,206.0 1036.4,213.0 1042.4,221.0 1044.8,229.0 1040.4,234.0 1032.4,236.0 1026.4,232.0 1024.0,221.0 1024.4,211.0 1025.4,207.0"/>
<polyline points="1174.2,238.1 1179.7,245.7 1189.4,254.0 1197.7,261.7 1204.6,266.5 1210.2,272.0 1212.9,277.6 1219.9,283.1 1225.4,290.0 1228.2,294.8 1234.4,302.0 1242.4,310.0 1252.4,318.0 1262.4,325.0 1270.4,325.0 1276.4,325.0 1276.4,304.0 1282.4,302.0 1278.4,295.0 1270.4,296.0 1266.4,296.0 1264.1,294.8 1261.3,290.0 1254.4,287.2 1255.8,280.3 1251.7,277.6 1247.5,274.8 1244.8,270.6 1236.5,267.9 1228.2,265.1 1219.9,259.6 1211.6,254.0 1203.3,248.5 1197.7,241.6 1186.7,239.5 1174.2,238.1"/>
<polyline points="1273.4,333.0 1280.4,327.0 1288.4,328.0 1298.4,332.0 1310.4,334.0 1322.4,331.0 1330.4,334.0 1342.4,336.0 1352.4,339.0 1362.4,344.0 1370.4,346.0 1366.4,349.0 1352.4,346.0 1332.4,343.0 1312.4,340.0 1292.4,338.0 1280.4,335.0 1273.4,333.0"/>
<polyline points="1374.4,348.0 1386.4,347.0 1398.4,346.0 1411.4,347.0 1411.4,350.0 1392.4,350.0 1374.4,349.6 1374.4,348.0"/>
<polyline points="1352.4,250.0 1342.4,255.0 1330.4,260.0 1322.4,265.0 1310.4,265.0 1306.4,267.0 1305.4,276.0 1312.4,284.0 1316.4,290.0 1319.4,303.0 1332.4,304.0 1334.4,308.0 1346.4,307.0 1360.4,309.0 1362.4,313.0 1372.4,310.0 1378.4,302.0 1377.4,296.0 1384.4,290.0 1388.4,280.0 1401.4,273.0 1392.4,267.0 1392.4,260.0 1388.4,254.0 1390.4,250.0 1394.4,250.0 1398.4,245.0 1404.4,242.0 1390.4,233.0 1382.4,228.4 1372.4,235.0 1362.4,243.0 1352.4,250.0"/>
<polyline points="1408.4,286.0 1402.4,296.0 1401.4,304.0 1406.4,308.0 1408.4,325.0"/>
<polyline points="1292.4,303.0 1296.4,301.6 1299.4,304.0 1296.4,306.4 1292.8,305.6 1292.4,303.0"/>
<polyline points="1208.8,290.0 1211.4,289.0 1213.4,293.0 1210.4,295.0 1208.4,292.4 1208.8,290.0"/>
<polyline points="1191.4,272.0 1196.4,271.0 1199.4,275.0 1196.4,277.0 1192.4,275.0 1191.4,272.0"/>
<polyline points="1179.4,260.0 1186.4,263.0"/>
<polyline points="1150.4,179.0 1149.4,189.0"/>
<polyline points="1386.4,216.6 1398.4,207.0 1410.4,196.0 1411.6,198.0 1399.6,209.0 1387.6,218.2 1386.4,216.6"/>
<polyline points="1285.4,169.0 1285.4,177.0"/>
</g></g>
<g stroke="#111" fill="none">
<rect x="834.4" y="50.5" width="578.1" height="308.6" stroke-width="2.7"/>
<path d="M834.4 50.5H823.4M834.4 127.7H823.4M834.4 204.8H823.4M834.4 282.0H823.4M834.4 359.1H823.4" stroke-width="2"/>
<path d="M834.4 65.9H829.4M834.4 81.4H829.4M834.4 96.8H829.4M834.4 112.2H829.4M834.4 143.1H829.4M834.4 158.5H829.4M834.4 173.9H829.4M834.4 189.4H829.4M834.4 220.2H829.4M834.4 235.7H829.4M834.4 251.1H829.4M834.4 266.5H829.4M834.4 297.4H829.4M834.4 312.8H829.4M834.4 328.2H829.4M834.4 343.7H829.4" stroke-width="1.4" stroke="#333"/>
<path d="M834.4 359.1V370.6M1027.1 359.1V370.6M1219.8 359.1V370.6M1412.5 359.1V370.6" stroke-width="2"/>
<path d="M882.6 359.1V364.6M930.8 359.1V364.6M978.9 359.1V364.6M1075.3 359.1V364.6M1123.5 359.1V364.6M1171.6 359.1V364.6M1268.0 359.1V364.6M1316.2 359.1V364.6M1364.3 359.1V364.6" stroke-width="1.4" stroke="#333"/>
</g>
<text x="803.1" y="61.7" font-size="31.2" text-anchor="end">30N</text>
<text x="803.1" y="138.8" font-size="31.2" text-anchor="end">20N</text>
<text x="803.1" y="216.0" font-size="31.2" text-anchor="end">10N</text>
<text x="803.1" y="293.2" font-size="31.2" text-anchor="end">0</text>
<text x="803.1" y="370.3" font-size="31.2" text-anchor="end">10S</text>
<text x="834.4" y="415.3" font-size="31.2" text-anchor="middle">60E</text>
<text x="1027.1" y="415.3" font-size="31.2" text-anchor="middle">80E</text>
<text x="1219.8" y="415.3" font-size="31.2" text-anchor="middle">100E</text>
<text x="1412.5" y="415.3" font-size="31.2" text-anchor="middle">120E</text>
<text x="96.6" y="29.5" font-size="34.5" font-weight="bold" fill="#000">A</text>
<text x="135.6" y="27.7" font-size="31.3" letter-spacing="0.38">NCEP &amp; OISST</text>
<text x="839.3" y="29.5" font-size="34.5" font-weight="bold" fill="#000">B</text>
<text x="880" y="27.7" font-size="31.3" letter-spacing="0.38">ERA5</text>
<rect x="351.30" y="445.3" width="73.62" height="30.3" fill="#1549a6"/>
<rect x="424.62" y="445.3" width="73.62" height="30.3" fill="#1f6cc9"/>
<rect x="497.94" y="445.3" width="73.62" height="30.3" fill="#3c9dea"/>
<rect x="571.25" y="445.3" width="73.62" height="30.3" fill="#53b2f5"/>
<rect x="644.57" y="445.3" width="73.62" height="30.3" fill="#86cfff"/>
<rect x="717.89" y="445.3" width="73.62" height="30.3" fill="#ffffff"/>
<rect x="791.21" y="445.3" width="73.62" height="30.3" fill="#ffbb44"/>
<rect x="864.53" y="445.3" width="73.62" height="30.3" fill="#ffa000"/>
<rect x="937.85" y="445.3" width="73.62" height="30.3" fill="#ff6010"/>
<rect x="1011.16" y="445.3" width="73.62" height="30.3" fill="#ff3010"/>
<rect x="1084.48" y="445.3" width="73.62" height="30.3" fill="#e01800"/>
<path d="M424.62 445.3V475.6M497.94 445.3V475.6M571.25 445.3V475.6M644.57 445.3V475.6M717.89 445.3V475.6M791.21 445.3V475.6M864.53 445.3V475.6M937.85 445.3V475.6M1011.16 445.3V475.6M1084.48 445.3V475.6" stroke="#111" stroke-width="1.2" fill="none"/>
<rect x="351.3" y="445.3" width="806.5" height="30.3" fill="none" stroke="#111" stroke-width="1.2"/>
<text x="424.6" y="501" font-size="20.8" text-anchor="middle">-0.6</text>
<text x="497.9" y="501" font-size="20.8" text-anchor="middle">-0.5</text>
<text x="571.3" y="501" font-size="20.8" text-anchor="middle">-0.4</text>
<text x="644.6" y="501" font-size="20.8" text-anchor="middle">-0.3</text>
<text x="717.9" y="501" font-size="20.8" text-anchor="middle">-0.2</text>
<text x="791.2" y="501" font-size="20.8" text-anchor="middle">0.2</text>
<text x="864.5" y="501" font-size="20.8" text-anchor="middle">0.3</text>
<text x="937.8" y="501" font-size="20.8" text-anchor="middle">0.4</text>
<text x="1011.2" y="501" font-size="20.8" text-anchor="middle">0.5</text>
<text x="1084.5" y="501" font-size="20.8" text-anchor="middle">0.6</text>
</svg>
</body></html>
